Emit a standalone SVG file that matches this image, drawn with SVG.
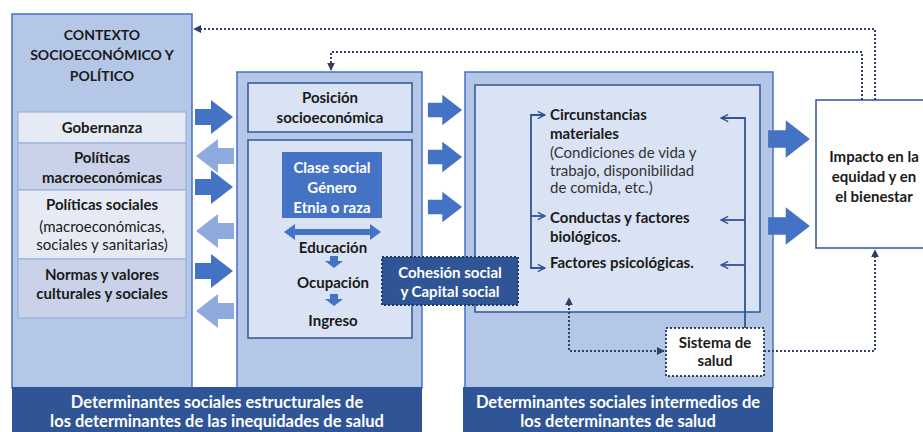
<svg xmlns="http://www.w3.org/2000/svg" width="923" height="432" viewBox="0 0 923 432">
<style>
text{font-family:Lato,"Liberation Sans",sans-serif;font-size:15px;fill:#1a1a1a;text-anchor:middle}
.b{font-weight:bold}
.w{fill:#ffffff}
.l{text-anchor:start}
.t{font-size:14px}
.bn{font-size:16.5px}
.col{fill:#b4c7e7;stroke:#4472c4;stroke-width:1.5}
.inner{fill:#dae3f3;stroke:#2f5597;stroke-width:1.5}
.ban{fill:#2f5597}
.dot{fill:none;stroke:#2f3f6a;stroke-width:2;stroke-dasharray:2 2}
.brk{fill:none;stroke:#2f5597;stroke-width:1.8}
.ad{fill:#4472c4}
.al{fill:#8faadc}
</style>
<defs>
<path id="ra" d="M-19,-8 H-3 V-17 L19,0 L-3,17 V8 H-19 Z"/>
<path id="la" d="M19,-8 H3 V-17 L-19,0 L3,17 V8 H19 Z"/>
<marker id="ah" viewBox="0 0 10 10" refX="9" refY="5" markerWidth="4" markerHeight="4" orient="auto-start-reverse"><path d="M0,0 L10,5 L0,10 Z" fill="#2f3f6a"/></marker>
<marker id="ch" viewBox="0 0 10 10" refX="9" refY="5" markerWidth="5" markerHeight="5" orient="auto"><path d="M1,1 L9,5 L1,9" fill="none" stroke="#2f5597" stroke-width="1.6"/></marker>
</defs>

<g id="col1">
<rect class="col" x="12" y="14" width="180" height="374"/>
<text class="b t" x="102" y="40">CONTEXTO</text>
<text class="b t" x="102" y="60">SOCIOECONÓMICO Y</text>
<text class="b t" x="102" y="81">POLÍTICO</text>
</g>
<g id="gobernanza">
<rect x="18" y="112" width="168" height="31" fill="#e6eaf4" stroke="#8faadc"/>
<text class="b" x="102" y="133">Gobernanza</text>
</g>
<g id="politicas-macro">
<rect x="18" y="143" width="168" height="47" fill="#c9d2e9" stroke="#8faadc"/>
<text class="b" x="102" y="163">Políticas</text>
<text class="b" x="102" y="183">macroeconómicas</text>
</g>
<g id="politicas-sociales">
<rect x="18" y="190" width="168" height="69" fill="#e6eaf4" stroke="#8faadc"/>
<text class="b" x="102" y="210">Políticas sociales</text>
<text x="102" y="232">(macroeconómicas,</text>
<text x="102" y="250">sociales y sanitarias)</text>
</g>
<g id="normas">
<rect x="18" y="259" width="168" height="59" fill="#c9d2e9" stroke="#8faadc"/>
<text class="b" x="102" y="280">Normas y valores</text>
<text class="b" x="102" y="299">culturales y sociales</text>
</g>

<g id="col2">
<rect class="col" x="237" y="72" width="185" height="316"/>
</g>
<g id="posicion">
<rect class="inner" x="248" y="83" width="164" height="49"/>
<text class="b" x="330" y="103">Posición</text>
<text class="b" x="330" y="123">socioeconómica</text>
</g>
<g id="estratificadores">
<rect class="inner" x="248" y="140" width="164" height="198"/>
<rect x="282" y="152" width="100" height="66" fill="#4472c4"/>
<text class="b w" x="332" y="173">Clase social</text>
<text class="b w" x="332" y="193">Género</text>
<text class="b w" x="332" y="213">Etnia o raza</text>
<path class="ad" d="M284,232 L295,224 V229 H370 V224 L381,232 L370,240 V235 H295 V240 Z"/>
<text class="b" x="333" y="253">Educación</text>
<path class="ad" d="M330,256 H338 V261 H343 L334,268 L325,261 H330 Z"/>
<text class="b" x="333" y="288">Ocupación</text>
<path class="ad" d="M330,294 H338 V299 H343 L334,306 L325,299 H330 Z"/>
<text class="b" x="333" y="326">Ingreso</text>
</g>

<g id="banner-estructurales">
<rect class="ban" x="12" y="387" width="410" height="45"/>
<text class="b w bn" x="217" y="408">Determinantes sociales estructurales de</text>
<text class="b w bn" x="217" y="427">los determinantes de las inequidades de salud</text>
</g>

<g id="col3">
<rect class="col" x="465" y="72" width="308" height="316"/>
<rect class="inner" x="475" y="85" width="285" height="227"/>
<text class="b l" x="550" y="120">Circunstancias</text>
<text class="b l" x="550" y="139">materiales</text>
<text class="l" x="550" y="158" style="fill:#333">(Condiciones de vida y</text>
<text class="l" x="550" y="176" style="fill:#333">trabajo, disponibilidad</text>
<text class="l" x="550" y="193" style="fill:#333">de comida, etc.)</text>
<text class="b l" x="550" y="223">Conductas y factores</text>
<text class="b l" x="550" y="242">biológicos.</text>
<text class="b l" x="550" y="268">Factores psicológicas.</text>
</g>
<g id="cohesion">
<rect x="382" y="257" width="136" height="48" fill="#2f5597" stroke="#1f3864" stroke-width="2" stroke-dasharray="2 2"/>
<text class="b w" x="450" y="278">Cohesión social</text>
<text class="b w" x="450" y="297">y Capital social</text>
</g>
<g id="sistema-salud">
<rect x="666" y="328" width="98" height="48" fill="#ffffff" stroke="#2f3f6a" stroke-width="2" stroke-dasharray="2 2"/>
<text class="b" x="715" y="348">Sistema de</text>
<text class="b" x="715" y="366">salud</text>
</g>
<g id="banner-intermedios">
<rect class="ban" x="463" y="387" width="310" height="45"/>
<text class="b w bn" x="618" y="408">Determinantes sociales intermedios de</text>
<text class="b w bn" x="618" y="427">los determinantes de salud</text>
</g>

<g id="impacto">
<rect x="816" y="100" width="120" height="148" fill="#ffffff" stroke="#2f5597" stroke-width="1.5"/>
<text class="b" x="874" y="162">Impacto en la</text>
<text class="b" x="874" y="182">equidad y en</text>
<text class="b" x="874" y="202">el bienestar</text>
</g>

<g id="connectors">
<use href="#ra" class="ad" transform="translate(214,117)"/>
<use href="#la" class="al" transform="translate(215,156)"/>
<use href="#ra" class="ad" transform="translate(214,187)"/>
<use href="#la" class="al" transform="translate(215,231)"/>
<use href="#ra" class="ad" transform="translate(214,271)"/>
<use href="#la" class="al" transform="translate(215,311)"/>
<use href="#ra" class="ad" transform="translate(445,110) scale(0.9)"/>
<use href="#ra" class="ad" transform="translate(445,157) scale(0.9)"/>
<use href="#ra" class="ad" transform="translate(445,207) scale(0.9)"/>
<use href="#ra" class="ad" transform="translate(789,139) scale(1.1)"/>
<use href="#ra" class="ad" transform="translate(789,226) scale(1.1)"/>
<path class="dot" d="M875,100 V29 H194" marker-end="url(#ah)"/>
<path class="dot" d="M862,100 V52 H331 V70" marker-end="url(#ah)"/>
<path class="dot" d="M664,351 H569 V298" marker-start="url(#ah)" marker-end="url(#ah)"/>
<path class="dot" d="M764,351 H875 V250" marker-end="url(#ah)"/>
<path class="brk" d="M545,115 H531 V268 H545" marker-end="url(#ch)"/>
<path class="brk" d="M531,115 H545" marker-end="url(#ch)"/>
<path class="brk" d="M531,216 H545" marker-end="url(#ch)"/>
<path class="brk" d="M745,328 V118 H721" marker-end="url(#ch)"/>
<path class="brk" d="M745,220 H721" marker-end="url(#ch)"/>
<path class="brk" d="M745,265 H721" marker-end="url(#ch)"/>
</g>
</svg>
